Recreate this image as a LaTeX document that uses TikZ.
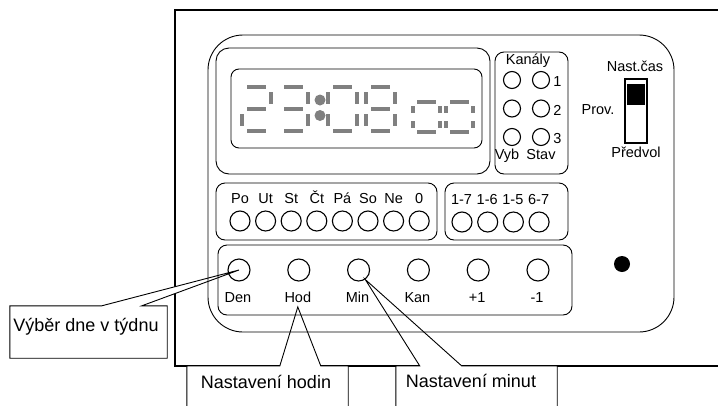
\documentclass[tikz,border=0pt]{standalone}
\usepackage{fontspec}
\setmainfont{Liberation Sans}
\usetikzlibrary{calc,backgrounds}

\begin{document}
\begin{tikzpicture}[x=1pt, y=-1pt,
  frame/.style={line width=1.6pt},
  panelbox/.style={draw, line width=0.9pt, rounded corners=35pt, inner sep=0pt},
  lcdbox/.style={draw, line width=0.9pt, rounded corners=13pt, inner sep=0pt},
  groupbox/.style={draw, line width=0.9pt, rounded corners=9pt, inner sep=0pt},
  led/.style={draw, circle, line width=1.1pt, minimum size=20pt, inner sep=0pt},
  chled/.style={draw, circle, line width=1.1pt, minimum size=17pt, inner sep=0pt},
  knob/.style={draw, circle, line width=1.1pt, minimum size=22pt, inner sep=0pt},
  lbl/.style={font=\fontsize{14.5}{16}\selectfont, inner sep=1pt, text height=10.5pt, text depth=3pt},
  seg/.style={line width=3.8pt, gray},
  callout/.style={draw, line width=0.9pt, fill=white},
  calltext/.style={font=\fontsize{18}{21}\selectfont, inner sep=1pt},
  callbox/.style={inner sep=0pt},
]
\useasboundingbox (0,0) rectangle (718,405);
\clip (0,0) rectangle (718,405);

% front panel
\node[panelbox, minimum width=466pt, minimum height=297pt] (panel) at (441,183.5) {};
\node[lcdbox, minimum width=274pt, minimum height=126pt] (lcdframe) at (353,111) {};
\node[groupbox, rounded corners=8pt, minimum width=251pt, minimum height=79pt] (lcd) at (356.5,108.5) {};
\node[groupbox, minimum width=73pt, minimum height=122pt] (kanbox) at (531.5,113) {};
\node[groupbox, minimum width=221pt, minimum height=57pt] (daybox) at (326.5,211.5) {};
\node[groupbox, minimum width=123pt, minimum height=57pt] (progbox) at (506.5,211.5) {};
\node[groupbox, minimum width=354pt, minimum height=70pt] (btnbox) at (395,280) {};

% display 23:08 00
\foreach \px/\py/\dw/\dh/\sh/\segs in {
  242/87/29/22/5/{0/0/1/0,1/0/1/1,0/1/1/1,0/1/0/2,0/2/1/2},
  279/87/29/22/5/{0/0/1/0,1/0/1/1,0/1/1/1,1/1/1/2,0/2/1/2},
  328/87/29/22/5/{0/0/1/0,1/0/1/1,1/1/1/2,0/2/1/2,0/1/0/2,0/0/0/1},
  366/87/29/22/5/{0/0/1/0,1/0/1/1,1/1/1/2,0/2/1/2,0/1/0/2,0/0/0/1,0/1/1/1},
  413/102/27/15/4/{0/0/1/0,1/0/1/1,1/1/1/2,0/2/1/2,0/1/0/2,0/0/0/1},
  446/102/27/15/4/{0/0/1/0,1/0/1/1,1/1/1/2,0/2/1/2,0/1/0/2,0/0/0/1}}{
  \begin{scope}[shift={(\px,\py)}, xscale=\dw, yscale=\dh]
    \foreach \xa/\ya/\xb/\yb in \segs
      \draw[seg, shorten <=\sh pt, shorten >=\sh pt] (\xa,\ya) -- (\xb,\yb);
  \end{scope}
}
\fill[gray] (320,100) circle (5.5pt) (320,115.5) circle (5.5pt);

% channels
\node[lbl] (kanaly) at (528,61) {Kanály};
\foreach \yy [count=\i] in {80,108.5,137} {
  \node[chled] (vyb\i) at (512,\yy) {};
  \node[chled] (stav\i) at (541,\yy) {};
  \node[lbl, anchor=west] (ch\i) at ($(stav\i.east)+(2,3)$) {\i};
}
\node[lbl] (vyb) at (507,156) {Vyb};
\node[lbl] (stav) at (541,156) {Stav};

% mode switch
\node[draw, line width=1.6pt, minimum width=22pt, minimum height=64pt, inner sep=0pt] (switch) at (636,111) {};
\node[fill=black, minimum width=18.5pt, minimum height=21pt, inner sep=0pt] (slider) at (636,94.5) {};
\node[lbl] (nastcas) at (635,68) {Nast.čas};
\node[lbl] (prov) at (598,111) {Prov.};
\node[lbl] (predvol) at (636,153.5) {Předvol};

% days and programs
\foreach \d [count=\i from 0] in {Po,Ut,St,Čt,Pá,So,Ne,0} {
  \node[lbl] (d\i) at (240+25.6*\i,200) {\d};
  \node[led] (dl\i) at (240+25.6*\i,221) {};
}
\foreach \p [count=\i from 0] in {1-7,1-6,1-5,6-7} {
  \node[lbl] (p\i) at (461.5+25.7*\i,201) {\p};
  \node[led] (pl\i) at (462+25.7*\i,222) {};
}

% buttons
\foreach \i/\name/\txt in {0/den/Den,1/hod/Hod,2/min/Min,3/kan/Kan,4/plus/+1,5/minus/-1} {
  \node[knob] (b\name) at (239+59.8*\i,270) {};
  \node[lbl] (l\name) at (238+59.8*\i,299) {\txt};
}
\node[circle, fill=black, minimum size=16pt, inner sep=0pt] (signal) at (622,264) {};

% housing and callouts
\begin{scope}[on background layer]
  \clip (0,0) rectangle (718,405);
  \draw[frame] (725,10) -- (175,10) -- (175,366) -- (725,366);
  \node[callbox, minimum width=157pt, minimum height=52pt] (vybbox) at (88.5,332) {};
  \node[callbox, minimum width=161pt, minimum height=50pt, anchor=north] (hodbox) at (267.5,366) {};
  \node[callbox, minimum width=161pt, minimum height=50pt, anchor=north] (minbox) at (476.5,366) {};
  \draw[callout] (vybbox.north west) -- ($(vybbox.north west)+(92,0)$) -- (bden.center)
    -- ($(vybbox.north west)+(132,0)$) -- (vybbox.north east) -- (vybbox.south east)
    -- (vybbox.south west) -- cycle;
  \draw[callout] (hodbox.north west) -- ($(hodbox.north west)+(93,0)$) -- (lhod.south)
    -- ($(hodbox.north west)+(134,0)$) -- (hodbox.north east) -- (hodbox.south east)
    -- (hodbox.south west) -- cycle;
  \draw[callout] (minbox.north west) -- ($(minbox.north west)+(24,0)$) -- (bmin.-55)
    -- ($(minbox.north west)+(66,0)$) -- (minbox.north east) -- (minbox.south east)
    -- (minbox.south west) -- cycle;
\end{scope}
\node[calltext] (tvyb) at (86,327) {Výběr dne v týdnu};
\node[calltext] (thod) at (266,382) {Nastavení hodin};
\node[calltext] (tmin) at (471,381) {Nastavení minut};
\end{tikzpicture}
\end{document}
